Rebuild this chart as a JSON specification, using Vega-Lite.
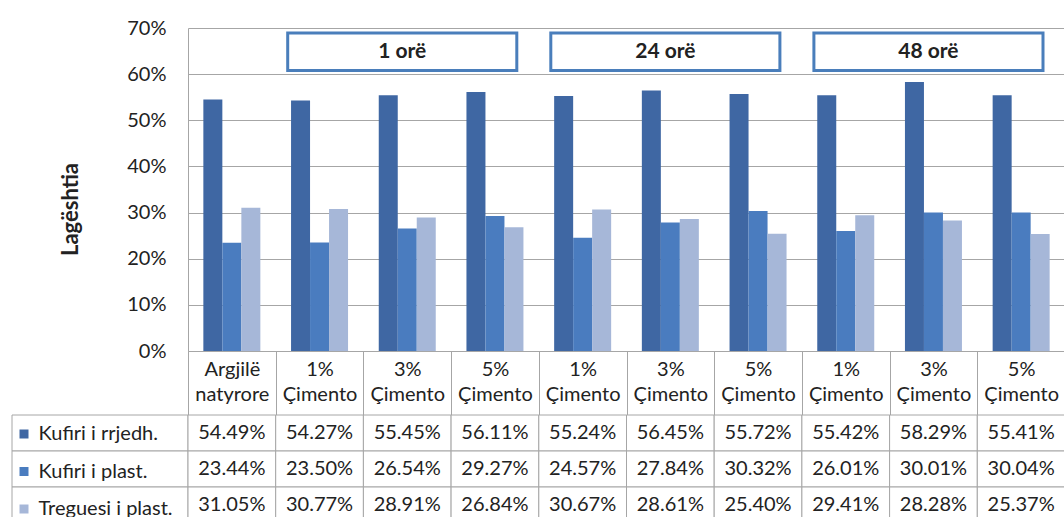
{
  "$schema": "https://vega.github.io/schema/vega-lite/v6.json",
  "background": "white",
  "padding": {"left": 11, "top": 18, "right": 0, "bottom": 0},
  "datasets": {
    "lageshtia": [
      {"prova": "Argjilë natyrore", "seria": "Kufiri i rrjedh.", "vlera": 0.5449},
      {"prova": "1 orë, 1% Çimento", "seria": "Kufiri i rrjedh.", "vlera": 0.5427},
      {"prova": "1 orë, 3% Çimento", "seria": "Kufiri i rrjedh.", "vlera": 0.5545},
      {"prova": "1 orë, 5% Çimento", "seria": "Kufiri i rrjedh.", "vlera": 0.5611},
      {"prova": "24 orë, 1% Çimento", "seria": "Kufiri i rrjedh.", "vlera": 0.5524},
      {"prova": "24 orë, 3% Çimento", "seria": "Kufiri i rrjedh.", "vlera": 0.5645},
      {"prova": "24 orë, 5% Çimento", "seria": "Kufiri i rrjedh.", "vlera": 0.5572},
      {"prova": "48 orë, 1% Çimento", "seria": "Kufiri i rrjedh.", "vlera": 0.5542},
      {"prova": "48 orë, 3% Çimento", "seria": "Kufiri i rrjedh.", "vlera": 0.5829},
      {"prova": "48 orë, 5% Çimento", "seria": "Kufiri i rrjedh.", "vlera": 0.5541},
      {"prova": "Argjilë natyrore", "seria": "Kufiri i plast.", "vlera": 0.2344},
      {"prova": "1 orë, 1% Çimento", "seria": "Kufiri i plast.", "vlera": 0.2350},
      {"prova": "1 orë, 3% Çimento", "seria": "Kufiri i plast.", "vlera": 0.2654},
      {"prova": "1 orë, 5% Çimento", "seria": "Kufiri i plast.", "vlera": 0.2927},
      {"prova": "24 orë, 1% Çimento", "seria": "Kufiri i plast.", "vlera": 0.2457},
      {"prova": "24 orë, 3% Çimento", "seria": "Kufiri i plast.", "vlera": 0.2784},
      {"prova": "24 orë, 5% Çimento", "seria": "Kufiri i plast.", "vlera": 0.3032},
      {"prova": "48 orë, 1% Çimento", "seria": "Kufiri i plast.", "vlera": 0.2601},
      {"prova": "48 orë, 3% Çimento", "seria": "Kufiri i plast.", "vlera": 0.3001},
      {"prova": "48 orë, 5% Çimento", "seria": "Kufiri i plast.", "vlera": 0.3004},
      {"prova": "Argjilë natyrore", "seria": "Treguesi i plast.", "vlera": 0.3105},
      {"prova": "1 orë, 1% Çimento", "seria": "Treguesi i plast.", "vlera": 0.3077},
      {"prova": "1 orë, 3% Çimento", "seria": "Treguesi i plast.", "vlera": 0.2891},
      {"prova": "1 orë, 5% Çimento", "seria": "Treguesi i plast.", "vlera": 0.2684},
      {"prova": "24 orë, 1% Çimento", "seria": "Treguesi i plast.", "vlera": 0.3067},
      {"prova": "24 orë, 3% Çimento", "seria": "Treguesi i plast.", "vlera": 0.2861},
      {"prova": "24 orë, 5% Çimento", "seria": "Treguesi i plast.", "vlera": 0.2540},
      {"prova": "48 orë, 1% Çimento", "seria": "Treguesi i plast.", "vlera": 0.2941},
      {"prova": "48 orë, 3% Çimento", "seria": "Treguesi i plast.", "vlera": 0.2828},
      {"prova": "48 orë, 5% Çimento", "seria": "Treguesi i plast.", "vlera": 0.2537}
    ],
    "grupet": [
      {"grupi": "1 orë", "nga": "1 orë, 1% Çimento", "mes": "1 orë, 3% Çimento", "deri": "1 orë, 5% Çimento"},
      {"grupi": "24 orë", "nga": "24 orë, 1% Çimento", "mes": "24 orë, 3% Çimento", "deri": "24 orë, 5% Çimento"},
      {"grupi": "48 orë", "nga": "48 orë, 1% Çimento", "mes": "48 orë, 3% Çimento", "deri": "48 orë, 5% Çimento"}
    ]
  },
  "columns": 2,
  "spacing": {"row": 64, "column": 0},
  "bounds": "flush",
  "concat": [
    {
      "width": 176,
      "height": 323,
      "data": {"values": []},
      "mark": {"type": "point"}
    },
    {
      "width": 877,
      "height": 323,
      "layer": [
        {
          "data": {"name": "lageshtia"},
          "mark": {"type": "bar"},
          "encoding": {
            "x": {
              "field": "prova",
              "type": "nominal",
              "scale": {
                "domain": ["Argjilë natyrore", "1 orë, 1% Çimento", "1 orë, 3% Çimento", "1 orë, 5% Çimento", "24 orë, 1% Çimento", "24 orë, 3% Çimento", "24 orë, 5% Çimento", "48 orë, 1% Çimento", "48 orë, 3% Çimento", "48 orë, 5% Çimento"],
                "paddingInner": 0,
                "paddingOuter": 0
              },
              "axis": {
                "title": null,
                "labelAngle": 0,
                "labelExpr": "split(indexof(datum.label, ', ') < 0 ? datum.label : substring(datum.label, indexof(datum.label, ', ') + 2), ' ')",
                "labelFontSize": 20,
                "labelColor": "#222222",
                "labelLineHeight": 25,
                "labelPadding": -56,
                "labelOverlap": false,
                "labelBound": false,
                "ticks": true,
                "tickBand": "extent",
                "tickSize": 64,
                "tickColor": "#a6a6a6",
                "domainColor": "#a6a6a6"
              }
            },
            "xOffset": {
              "field": "seria",
              "type": "nominal",
              "scale": {"domain": ["Kufiri i rrjedh.", "Kufiri i plast.", "Treguesi i plast."], "paddingInner": 0, "paddingOuter": 0.808}
            },
            "y": {
              "field": "vlera",
              "type": "quantitative",
              "scale": {"domain": [0, 0.7]},
              "axis": {
                "title": "Lagështia",
                "titleFontSize": 22,
                "titleFontWeight": "bold",
                "titleColor": "#222222",
                "titlePadding": 44,
                "titleY": 181,
                "values": [0, 0.1, 0.2, 0.3, 0.4, 0.5, 0.6, 0.7],
                "format": ".0%",
                "labelFontSize": 20,
                "labelColor": "#222222",
                "labelPadding": 22,
                "ticks": false,
                "grid": true,
                "gridColor": "#a6a6a6",
                "domainColor": "#a6a6a6"
              }
            },
            "color": {
              "field": "seria",
              "type": "nominal",
              "scale": {"domain": ["Kufiri i rrjedh.", "Kufiri i plast.", "Treguesi i plast."], "range": ["#3f67a3", "#4a7cbf", "#a6b7d8"]},
              "legend": {
                "orient": "none",
                "legendX": 2,
                "legendY": 396,
                "title": null,
                "symbolType": "square",
                "symbolSize": 81,
                "symbolStrokeWidth": 0,
                "labelFontSize": 20,
                "labelColor": "#222222",
                "labelOffset": 4.5,
                "rowPadding": 17.5,
                "padding": 0
              }
            }
          }
        },
        {
          "data": {"name": "grupet"},
          "mark": {"type": "rect", "fill": "white", "stroke": "#4a7ebb", "strokeWidth": 3, "xOffset": 12, "x2Offset": -22},
          "encoding": {
            "x": {"field": "nga", "type": "nominal", "bandPosition": 0},
            "x2": {"field": "deri", "bandPosition": 1},
            "y": {"datum": 0.608},
            "y2": {"datum": 0.689}
          }
        },
        {
          "data": {"name": "grupet"},
          "mark": {"type": "text", "fontSize": 21, "fontWeight": "bold", "color": "#222222", "dx": -5},
          "encoding": {
            "x": {"field": "mes", "type": "nominal"},
            "y": {"datum": 0.6485},
            "text": {"field": "grupi"}
          }
        }
      ]
    },
    {
      "width": 176,
      "height": 108,
      "data": {"name": "lageshtia"},
      "transform": [{"aggregate": [], "groupby": ["seria"]}],
      "mark": {"type": "rect", "fill": "white", "stroke": "#a6a6a6", "strokeWidth": 1},
      "encoding": {
        "y": {
          "field": "seria",
          "type": "nominal",
          "scale": {"domain": ["Kufiri i rrjedh.", "Kufiri i plast.", "Treguesi i plast."], "paddingInner": 0, "paddingOuter": 0},
          "axis": null
        }
      }
    },
    {
      "width": 877,
      "height": 108,
      "data": {"name": "lageshtia"},
      "encoding": {
        "x": {
          "field": "prova",
          "type": "nominal",
          "scale": {
            "domain": ["Argjilë natyrore", "1 orë, 1% Çimento", "1 orë, 3% Çimento", "1 orë, 5% Çimento", "24 orë, 1% Çimento", "24 orë, 3% Çimento", "24 orë, 5% Çimento", "48 orë, 1% Çimento", "48 orë, 3% Çimento", "48 orë, 5% Çimento"],
            "paddingInner": 0,
            "paddingOuter": 0
          },
          "axis": null
        },
        "y": {
          "field": "seria",
          "type": "nominal",
          "scale": {"domain": ["Kufiri i rrjedh.", "Kufiri i plast.", "Treguesi i plast."], "paddingInner": 0, "paddingOuter": 0},
          "axis": null
        }
      },
      "layer": [
        {"mark": {"type": "rect", "fill": "white", "stroke": "#a6a6a6", "strokeWidth": 1}},
        {
          "mark": {"type": "text", "fontSize": 20, "color": "#222222"},
          "encoding": {"text": {"field": "vlera", "type": "quantitative", "format": ".2%"}}
        }
      ]
    }
  ],
  "config": {
    "font": "Lato",
    "view": {"stroke": null},
    "axis": {"labelFont": "Lato", "titleFont": "Lato"},
    "legend": {"labelFont": "Lato"}
  }
}
